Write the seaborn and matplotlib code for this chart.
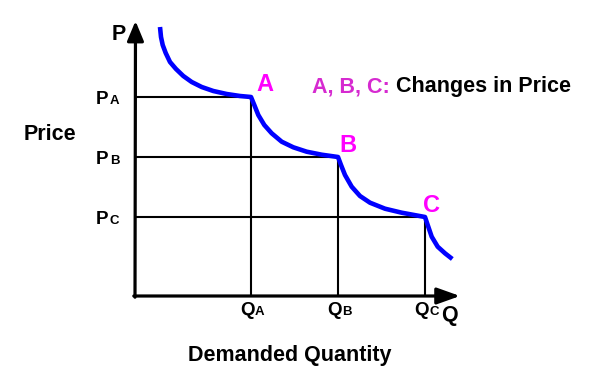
import matplotlib
matplotlib.use("Agg")
import matplotlib.pyplot as plt
import seaborn as sns
import pandas as pd

sns.set_theme(style="white")
plt.rcParams['font.family'] = ['Liberation Sans', 'DejaVu Sans']

# ---- data (Q, P units; origin at the axes corner) ----
points = ["A", "B", "C"]
q_points = [116, 203, 290]
p_points = [199, 139, 79]

curve_q = [25, 26, 27.7, 30.7, 35, 41, 48.3, 56.7, 66.7, 78.3, 91.7, 105, 116,
           119.3, 123.3, 129.3, 136.7, 146.7, 158.3, 171.7, 186.7, 203,
           206, 210, 216.7, 225, 235, 250, 266.7, 290,
           292.7, 296.7, 302.7, 310, 317.3]
curve_p = [269, 259, 251, 243, 234, 227, 220, 214, 209, 205, 202, 200, 199,
           191, 181, 171, 162.7, 154.3, 148.7, 144.3, 141.3, 139,
           131, 121, 109.3, 100, 93.3, 87.3, 83.3, 79,
           71, 59.3, 49.3, 42.7, 37]

x_axis_label = "Demanded Quantity"
y_axis_label = "Price"
legend_keys = "A, B, C:"
legend_text = "Changes in Price"

# ---- figure ----
W, H = 591, 385
X0, Y0 = 135, 296  # pixel location of origin
fig = plt.figure(figsize=(W / 100, H / 100), dpi=100)
ax = fig.add_axes([0, 0, 1, 1])
ax.set_xlim(-X0, W - X0)
ax.set_ylim(-(H - Y0), Y0)
ax.axis("off")


def px(x, y):
    return x - X0, Y0 - y


# guide lines
for q, p in zip(q_points, p_points):
    ax.plot([0, q], [p, p], color="black", lw=1.5, solid_capstyle="butt", zorder=2)
    ax.plot([q, q], [0, p], color="black", lw=1.5, solid_capstyle="butt", zorder=2)

# demand curve
df = pd.DataFrame({"Q": curve_q, "P": curve_p})
sns.lineplot(data=df, x="Q", y="P", sort=False, estimator=None, color="#0000FF",
             lw=3.3, ax=ax, zorder=3)
ax.lines[-1].set_solid_capstyle("butt")
ax.lines[-1].set_solid_joinstyle("round")

# axes with arrows
ax.annotate("", xy=px(135.5, 21), xytext=(0, -1.2),
            arrowprops=dict(arrowstyle="-|>,head_length=1.2,head_width=0.5",
                            mutation_scale=10, color="black", lw=2.3,
                            shrinkA=0, shrinkB=0), zorder=4)
ax.annotate("", xy=px(460, 296), xytext=(-1.2, 0),
            arrowprops=dict(arrowstyle="-|>,head_length=1.4,head_width=0.5",
                            mutation_scale=10, color="black", lw=2.3,
                            shrinkA=0, shrinkB=0), zorder=4)

fs = 15.5
tick_fs = 13.5
sub = 9.5
bold = dict(fontweight="bold", color="black")

# axis letters
ax.text(*px(118.5, 40), "P", fontsize=fs, ha="center", va="baseline", **bold)
ax.text(*px(449.5, 321), "Q", fontsize=fs, ha="center", va="baseline", **bold)

# P ticks
for name, p in zip(points, p_points):
    ax.text(-39, p - 7, "P", fontsize=tick_fs, ha="left", va="baseline", **bold)
    ax.text(-25, p - 7, name, fontsize=sub, ha="left", va="baseline", **bold)

# Q ticks
for name, q in zip(points, q_points):
    ax.text(q - 11, -19, "Q", fontsize=tick_fs, ha="left", va="baseline", **bold)
    ax.text(q + 4, -19, name, fontsize=sub, ha="left", va="baseline", **bold)

# point labels
offsets = [(14, 6), (10, 5), (7, 5)]
for name, q, p, (dx, dy) in zip(points, q_points, p_points, offsets):
    ax.text(q + dx, p + dy, name, fontsize=17, ha="center", va="baseline",
            fontweight="bold", color="#FF00FF")

# axis titles
ax.text(*px(24, 140), y_axis_label, fontsize=fs, ha="left", va="baseline", **bold)
ax.text(*px(290, 361), x_axis_label, fontsize=fs, ha="center", va="baseline", **bold)

# legend line
t = ax.text(*px(312, 92), legend_keys + " ", fontsize=fs, ha="left", va="baseline",
            fontweight="bold", color="#D62AD0")
fig.canvas.draw()
bb = t.get_window_extent()
inv = ax.transData.inverted()
x_end = inv.transform((bb.x1, bb.y0))[0]
ax.text(x_end, px(0, 92)[1], legend_text, fontsize=fs, ha="left", va="baseline", **bold)

fig.savefig("out.png", dpi=100)
